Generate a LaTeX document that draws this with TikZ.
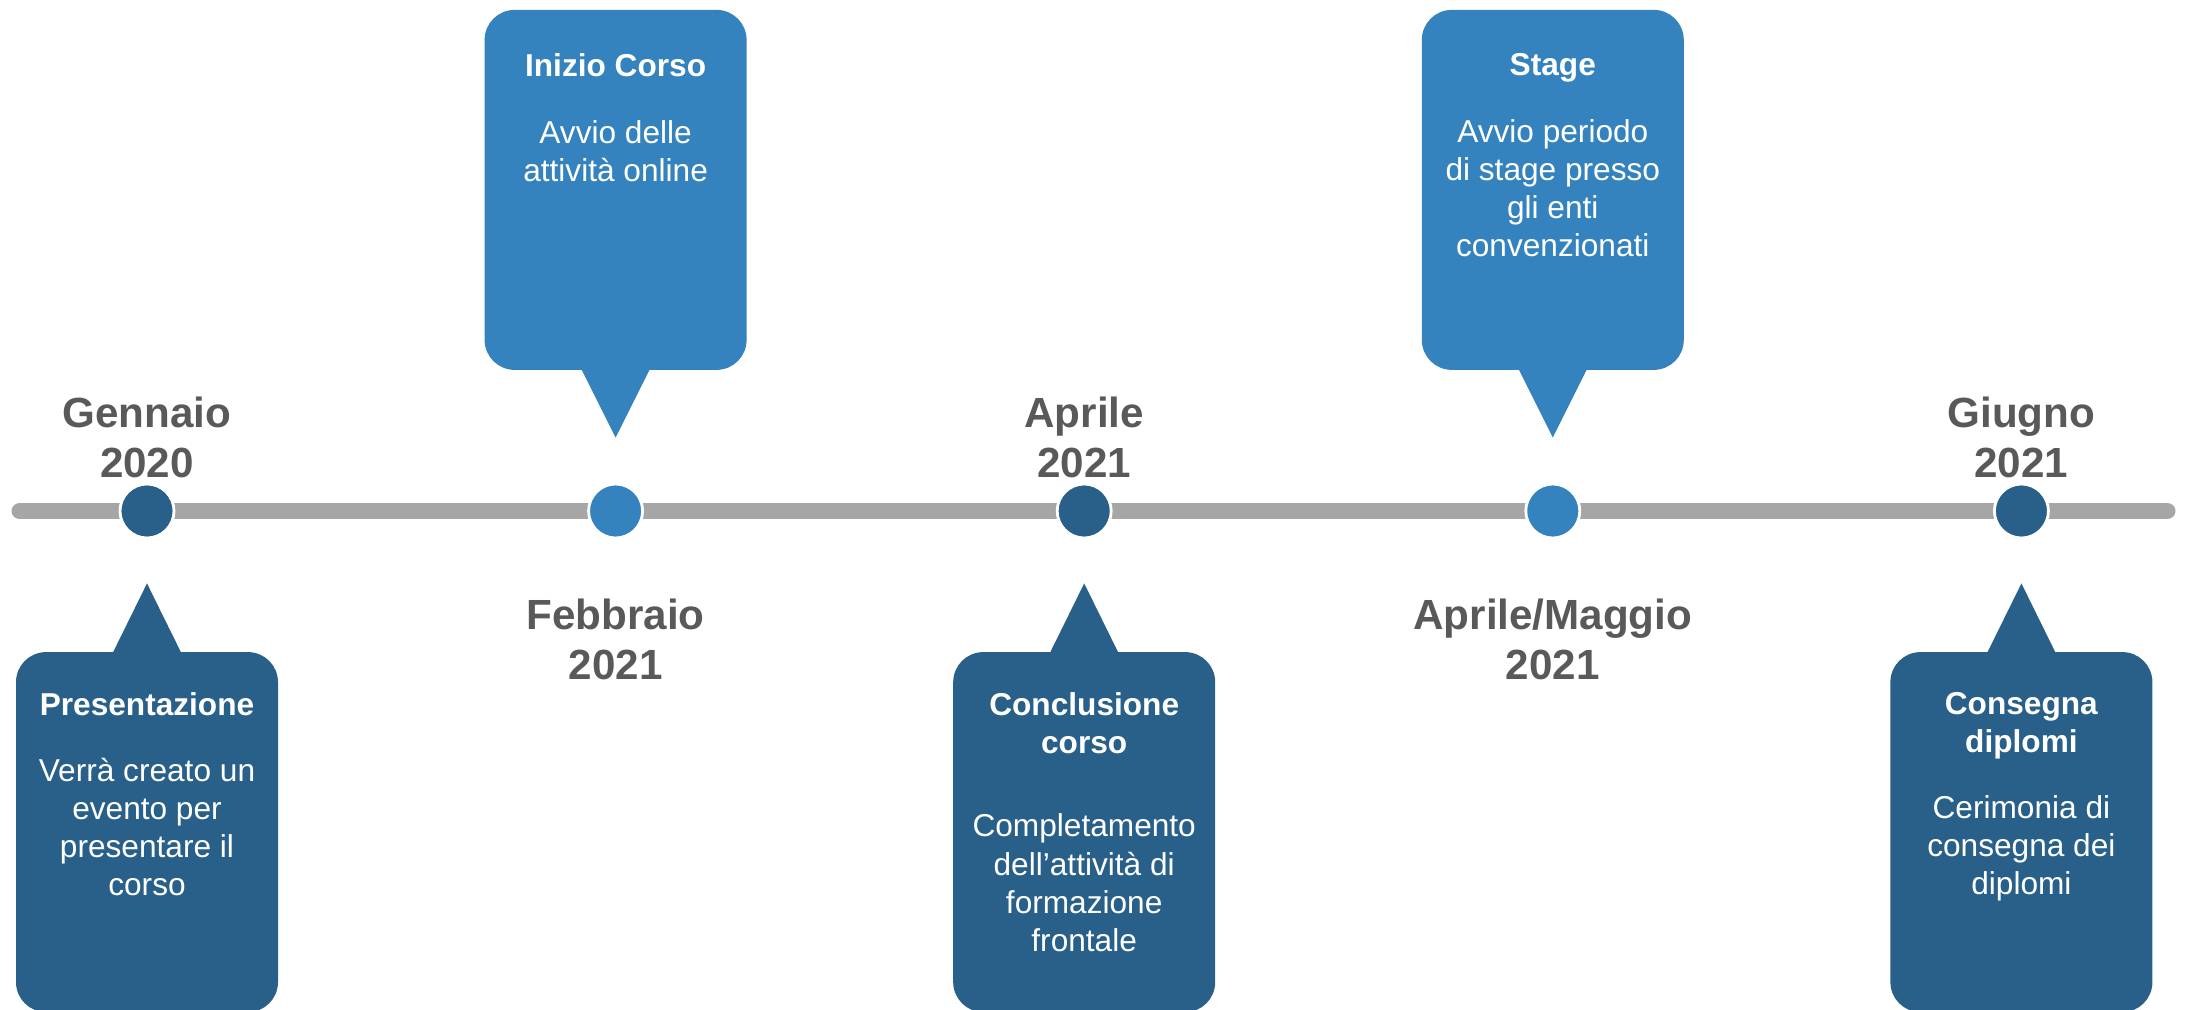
\documentclass[tikz,border=0pt]{standalone}
\usepackage{fontspec}
\setmainfont{Liberation Sans}
\usepackage{tikz}
\usetikzlibrary{calc, positioning}

\definecolor{darkblu}{HTML}{28608A}
\definecolor{lightblu}{HTML}{3483BE}
\definecolor{bargray}{HTML}{A6A6A6}
\definecolor{dategray}{HTML}{595959}

\tikzset{
  callout/.style={rectangle, rounded corners=0.3cm, minimum width=2.62cm, minimum height=3.6cm, inner sep=0pt},
  boxtext/.style={text=white, align=center, inner sep=0pt, font=\fontsize{9}{10.85}\selectfont},
  datetext/.style={text=dategray, align=center, inner sep=0pt, font=\fontsize{12}{14.2}\selectfont\bfseries},
  dot/.style={circle, minimum size=0.54cm, inner sep=0pt, draw=white, line width=0.8pt}
}

\begin{document}
\begin{tikzpicture}
  \useasboundingbox (0,-4.99) rectangle (21.9,5.11);

  % Timeline bar
  \draw[bargray, line width=0.17cm, line cap=round] (0.2,0) -- (21.67,0);

  % Milestone dots
  \foreach \n/\x/\c in {gen/1.47/darkblu, feb/6.156/lightblu, apr/10.842/darkblu, mag/15.528/lightblu, giu/20.214/darkblu}
    \node[dot, fill=\c] (\n) at (\x,0) {};

  % Dates
  \node[datetext, above=0.04cm of gen] (gen date) {Gennaio\\2020};
  \node[datetext, below=0.59cm of feb] (feb date) {Febbraio\\2021};
  \node[datetext, above=0.04cm of apr] (apr date) {Aprile\\2021};
  \node[datetext, below=0.59cm of mag] (mag date) {Aprile/Maggio\\2021};
  \node[datetext, above=0.04cm of giu] (giu date) {Giugno\\2021};

  % Callout boxes
  \node[callout, fill=darkblu, below=1.12cm of gen] (pres) {};
  \node[callout, fill=lightblu, above=1.12cm of feb] (inizio) {};
  \node[callout, fill=darkblu, below=1.12cm of apr] (concl) {};
  \node[callout, fill=lightblu, above=1.12cm of mag] (stage) {};
  \node[callout, fill=darkblu, below=1.12cm of giu] (cons) {};

  % Pointers
  \foreach \d/\b/\c in {gen/pres/darkblu, apr/concl/darkblu, giu/cons/darkblu}
    {
      \coordinate[below=0.44cm of \d] (\b tip);
      \fill[\c] ($(\b.north)+(-0.35,-0.03)$) -- (\b tip) -- ($(\b.north)+(0.35,-0.03)$) -- cycle;
    }
  \foreach \d/\b/\c in {feb/inizio/lightblu, mag/stage/lightblu}
    {
      \coordinate[above=0.45cm of \d] (\b tip);
      \fill[\c] ($(\b.south)+(-0.35,0.03)$) -- (\b tip) -- ($(\b.south)+(0.35,0.03)$) -- cycle;
    }

  % Box texts
  \node[boxtext, below=0.40cm of pres.north] (pres text)
    {\textbf{Presentazione}\\[8pt]Verrà creato un\\evento per\\presentare il\\corso};
  \node[boxtext, below=0.44cm of inizio.north] (inizio text)
    {\textbf{Inizio Corso}\\[8pt]Avvio delle\\attività online};
  \node[boxtext, below=0.40cm of concl.north] (concl text)
    {\textbf{Conclusione}\\\textbf{corso}\\[13pt]Completamento\\dell’attività di\\formazione\\frontale};
  \node[boxtext, below=0.44cm of stage.north] (stage text)
    {\textbf{Stage}\\[8pt]Avvio periodo\\di stage presso\\gli enti\\convenzionati};
  \node[boxtext, below=0.40cm of cons.north] (cons text)
    {\textbf{Consegna}\\\textbf{diplomi}\\[8pt]Cerimonia di\\consegna dei\\diplomi};
\end{tikzpicture}
\end{document}
